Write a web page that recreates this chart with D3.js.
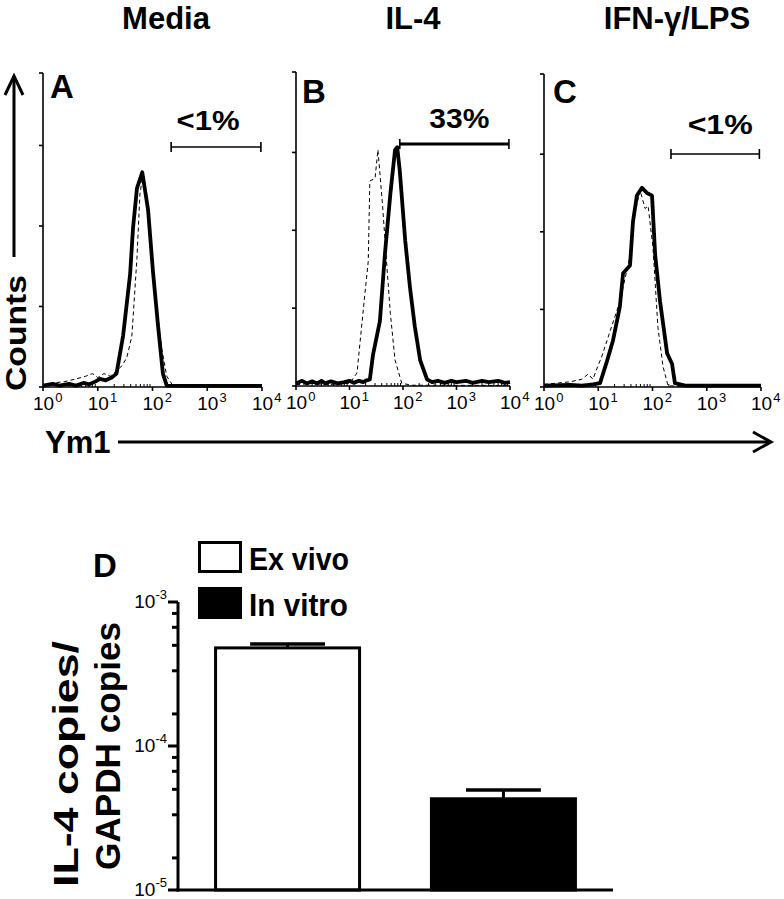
<!DOCTYPE html>
<html><head><meta charset="utf-8">
<script src="https://cdn.jsdelivr.net/npm/d3@7"></script>
<style>
body{margin:0;background:#fff}
svg{display:block}
text{font-family:"Liberation Sans",Arial,Helvetica,sans-serif;fill:#000}
</style>
</head><body>
<svg id="chart" width="784" height="899"></svg>
<script>
// ---------------- DATA ----------------
const panelTitles = ["Media", "IL-4", "IFN-γ/LPS"];
const panelLetters = ["A", "B", "C"];
const gateLabels = ["<1%", "33%", "<1%"];
const gateRanges = [[219, 9550], [87, 9550], [219, 9330]];
const xTickValues = [1, 10, 100, 1000, 10000];
const xTickExponents = ["0", "1", "2", "3", "4"];
const countTicks = [30, 60, 90];

// [Ym1 fluorescence, counts]
const histA_solid = [[1,0.5],[1.5,1.2],[2,0.5],[3,1.2],[4,0.5],[5.5,1.5],[7,1],[9,2],[11,3],[14,2.5],[18,3.5],[22,5],[29,19],[39,42],[44,59],[52,74],[65,80],[83,66],[102,43],[126,23],[155,5],[182,0.5],[300,0.4],[1000,0.4],[10000,0.4]];
const histA_dashed = [[1,0.5],[1.5,1.5],[2.5,2],[4,3],[6,4],[8,5],[10,3.5],[13,5],[17,4],[22,6],[28,8],[34,11],[42,19],[52,48],[59,72],[67,79],[89,59],[110,36],[148,14],[182,4],[236,0.5],[400,0.2],[10000,0.2]];
const histB_solid = [[1,1],[1.3,2],[1.6,1],[2,1.8],[2.5,1],[3,2],[3.5,1],[4.5,1.8],[6,1],[8,1.5],[10,2],[12,1.2],[15,2],[18,1.5],[21,2.2],[24,2.5],[27.5,12],[37,25],[46,51],[58,74],[71,91],[78,92],[87,83],[110,56],[135,38],[166,23],[209,10],[282,2.5],[350,1.5],[450,2],[600,1.2],[800,2],[1000,1.5],[1500,2],[2000,1.2],[3000,2],[4000,1.5],[6000,2],[8000,1.2],[10000,1.5]];
const histB_dashed = [[1,0.5],[2,1],[4,0.5],[7,1],[10,1],[13.8,5],[19.5,36],[22.4,48],[24,79],[30,80],[34,91],[41,71],[50,46],[58,28],[71,10],[95,1],[150,0.3],[10000,0.2]];
const histC_solid = [[1,0.5],[3,0.8],[5,0.5],[8,1],[10.8,1.5],[14.5,10],[18.7,18],[25,31],[28.7,44],[38.5,47],[43.7,64],[51.6,74],[64,77],[79,75],[98,74],[112,51],[138,33],[186,13],[229,9],[259,1.5],[400,0.5],[10000,0.5]];
const histC_dashed = [[1,1],[3,2],[5,3],[6.5,5],[8,3],[9,6],[11.7,12],[25,33],[38,50],[48,68],[59,76],[73,69],[83,70],[102,54],[126,23],[156,8],[193,0.5],[400,0.2],[10000,0.2]];

const barCategories = ["Ex vivo", "In vitro"];
const barMeans = [4.8e-4, 4.3e-5];
const barErrUpper = [5.1e-4, 4.95e-5];
const dTickValues = [1e-5, 1e-4, 1e-3];
const dTickExponents = ["-5", "-4", "-3"];
const dMinorTicks = [1.67e-5, 3.33e-5, 5e-5, 6.67e-5, 8.33e-5, 1.67e-4, 3.33e-4, 5e-4, 6.67e-4, 8.33e-4];

// ---------------- DRAW ----------------
const svg = d3.select("#chart");
const solids = [histA_solid, histB_solid, histC_solid];
const dashes = [histA_dashed, histB_dashed, histC_dashed];
const layout = [
  {x0: 43, x1: 262, yTop: 73, yBase: 387, ymax: 117, title: 166, tBase: 29, letterX: 50, letterBase: 98, gateY: 147, gateW: 1.6, labBase: 130, labDx: -8, labW: 63},
  {x0: 296, x1: 510, yTop: 72, yBase: 386, ymax: 121, title: 413, tBase: 29, letterX: 302, letterBase: 103, gateY: 144, gateW: 3.2, labBase: 128, labDx: 5, labW: 60},
  {x0: 544, x1: 761, yTop: 74, yBase: 387, ymax: 121, title: 677, tBase: 29, letterX: 553, letterBase: 103, gateY: 154, gateW: 1.6, labBase: 134, labDx: 5, labW: 65}
];

layout.forEach((L, i) => {
  const g = svg.append("g");
  const x = d3.scaleLog().domain([1, 10000]).range([L.x0, L.x1]);
  const y = d3.scaleLinear().domain([0, L.ymax]).range([L.yBase, L.yTop]);

  g.append("text").attr("x", L.title).attr("y", L.tBase).attr("text-anchor", "middle")
    .attr("font-size", 31).attr("font-weight", "bold").text(panelTitles[i]);
  g.append("text").attr("x", L.letterX).attr("y", L.letterBase)
    .attr("font-size", 33).attr("font-weight", "bold").text(panelLetters[i]);

  // y axis
  g.append("line").attr("x1", L.x0).attr("x2", L.x0).attr("y1", L.yTop).attr("y2", L.yBase)
    .attr("stroke", "#000").attr("stroke-width", 1.6);
  g.selectAll(".yt").data([0].concat(countTicks).concat([L.ymax])).enter().append("line")
    .attr("x1", L.x0 - 4).attr("x2", L.x0).attr("y1", d => y(d)).attr("y2", d => y(d))
    .attr("stroke", "#000").attr("stroke-width", 1.6);

  // x axis
  g.append("line").attr("x1", L.x0).attr("x2", L.x1).attr("y1", L.yBase).attr("y2", L.yBase)
    .attr("stroke", "#000").attr("stroke-width", 1.6);
  const minor = x.ticks().filter(v => !xTickValues.includes(v));
  g.selectAll(".xm").data(minor).enter().append("line")
    .attr("x1", d => x(d)).attr("x2", d => x(d)).attr("y1", L.yBase).attr("y2", L.yBase - 3)
    .attr("stroke", "#000").attr("stroke-width", 1);
  g.selectAll(".xt").data(xTickValues).enter().append("line")
    .attr("x1", d => x(d)).attr("x2", d => x(d)).attr("y1", L.yBase).attr("y2", L.yBase + 4)
    .attr("stroke", "#000").attr("stroke-width", 1.6);
  const lab = g.selectAll(".xl").data(xTickValues).enter().append("text")
    .attr("x", d => x(d) - 10).attr("y", L.yBase + 23).attr("font-size", 19);
  lab.append("tspan").text("10");
  lab.append("tspan").attr("font-size", 13).attr("dx", 1).attr("dy", -8).text((d, j) => xTickExponents[j]);

  // histograms
  const line = d3.line().x(d => x(d[0])).y(d => y(d[1]));
  g.append("path").datum(dashes[i]).attr("d", line).attr("fill", "none")
    .attr("stroke", "#000").attr("stroke-width", 1).attr("stroke-dasharray", "4,3");
  g.append("path").datum(solids[i]).attr("d", line).attr("fill", "none")
    .attr("stroke", "#000").attr("stroke-width", 3.8).attr("stroke-linejoin", "round");

  // gate
  const gr = gateRanges[i];
  g.append("line").attr("x1", x(gr[0])).attr("x2", x(gr[1])).attr("y1", L.gateY).attr("y2", L.gateY)
    .attr("stroke", "#000").attr("stroke-width", L.gateW);
  gr.forEach(v => g.append("line").attr("x1", x(v)).attr("x2", x(v)).attr("y1", L.gateY - 5).attr("y2", L.gateY + 5)
    .attr("stroke", "#000").attr("stroke-width", 1.6));
  g.append("text").attr("x", (x(gr[0]) + x(gr[1])) / 2 + L.labDx).attr("y", L.labBase).attr("text-anchor", "middle")
    .attr("font-size", 27).attr("font-weight", "bold")
    .attr("textLength", L.labW).attr("lengthAdjust", "spacingAndGlyphs").text(gateLabels[i]);
});

// Counts label & arrow
svg.append("text").attr("transform", "translate(26,333) rotate(-90)").attr("text-anchor", "middle")
  .attr("font-size", 30).attr("font-weight", "bold")
  .attr("textLength", 116).attr("lengthAdjust", "spacingAndGlyphs").text("Counts");
svg.append("line").attr("x1", 14).attr("x2", 14).attr("y1", 257).attr("y2", 76).attr("stroke", "#000").attr("stroke-width", 3);
svg.append("path").attr("d", "M5,95 L14,76 L23,95").attr("fill", "none").attr("stroke", "#000").attr("stroke-width", 3);

// Ym1 label & arrow
svg.append("text").attr("x", 45).attr("y", 453).attr("font-size", 31).attr("font-weight", "bold").text("Ym1");
svg.append("line").attr("x1", 118).attr("x2", 771).attr("y1", 442).attr("y2", 442).attr("stroke", "#000").attr("stroke-width", 3);
svg.append("path").attr("d", "M753,432 L771,442 L753,452").attr("fill", "none").attr("stroke", "#000").attr("stroke-width", 3);

// ---------------- PANEL D ----------------
const gD = svg.append("g");
const xD = d3.scaleBand().domain(barCategories).range([178, 613]).paddingInner(0.333).paddingOuter(0.174);
const yD = d3.scaleLog().domain([1e-5, 1e-3]).range([890, 602]);

gD.append("text").attr("x", 93).attr("y", 577).attr("font-size", 33).attr("font-weight", "bold").text("D");

gD.selectAll(".bar").data(barCategories).enter().append("rect")
  .attr("x", d => xD(d)).attr("width", xD.bandwidth())
  .attr("y", (d, i) => yD(barMeans[i])).attr("height", (d, i) => yD(1e-5) - yD(barMeans[i]))
  .attr("fill", (d, i) => i === 0 ? "#fff" : "#000").attr("stroke", "#000").attr("stroke-width", 3);
barCategories.forEach((c, i) => {
  const cx = xD(c) + xD.bandwidth() / 2;
  const hw = xD.bandwidth() * 0.26;
  gD.append("line").attr("x1", cx).attr("x2", cx).attr("y1", yD(barMeans[i])).attr("y2", yD(barErrUpper[i]))
    .attr("stroke", "#000").attr("stroke-width", 3);
  gD.append("line").attr("x1", cx - hw).attr("x2", cx + hw).attr("y1", yD(barErrUpper[i])).attr("y2", yD(barErrUpper[i]))
    .attr("stroke", "#000").attr("stroke-width", 3.5);
});

gD.append("line").attr("x1", 178).attr("x2", 178).attr("y1", 602).attr("y2", 891.5).attr("stroke", "#000").attr("stroke-width", 3);
gD.append("line").attr("x1", 176.5).attr("x2", 613).attr("y1", 890).attr("y2", 890).attr("stroke", "#000").attr("stroke-width", 3);
gD.selectAll(".dm").data(dMinorTicks).enter().append("line")
  .attr("x1", 172).attr("x2", 178).attr("y1", d => yD(d)).attr("y2", d => yD(d)).attr("stroke", "#000").attr("stroke-width", 3);
gD.selectAll(".dM").data(dTickValues).enter().append("line")
  .attr("x1", 168).attr("x2", 178).attr("y1", d => yD(d)).attr("y2", d => yD(d)).attr("stroke", "#000").attr("stroke-width", 3);
const dl = gD.selectAll(".dl").data(dTickValues).enter().append("text")
  .attr("x", 167).attr("y", d => yD(d) + 6).attr("text-anchor", "end").attr("font-size", 19);
dl.append("tspan").text("10");
dl.append("tspan").attr("font-size", 13).attr("dy", -9).text((d, j) => dTickExponents[j]);

gD.append("text").attr("transform", "translate(78,764) rotate(-90)").attr("text-anchor", "middle")
  .attr("font-size", 35).attr("font-weight", "bold")
  .attr("textLength", 246).attr("lengthAdjust", "spacingAndGlyphs").text("IL-4 copies/");
gD.append("text").attr("transform", "translate(120,746) rotate(-90)").attr("text-anchor", "middle")
  .attr("font-size", 35).attr("font-weight", "bold")
  .attr("textLength", 248).attr("lengthAdjust", "spacingAndGlyphs").text("GAPDH copies");

const legY = [541, 587];
const legW = [100, 99];
barCategories.forEach((c, i) => {
  gD.append("rect").attr("x", 199.5).attr("y", legY[i] + 1.5).attr("width", 41).attr("height", 29)
    .attr("fill", i === 0 ? "#fff" : "#000").attr("stroke", "#000").attr("stroke-width", 3);
  gD.append("text").attr("x", 249).attr("y", legY[i] + 29).attr("font-size", 32).attr("font-weight", "bold")
    .attr("textLength", legW[i]).attr("lengthAdjust", "spacingAndGlyphs").text(c);
});
</script>
</body></html>
